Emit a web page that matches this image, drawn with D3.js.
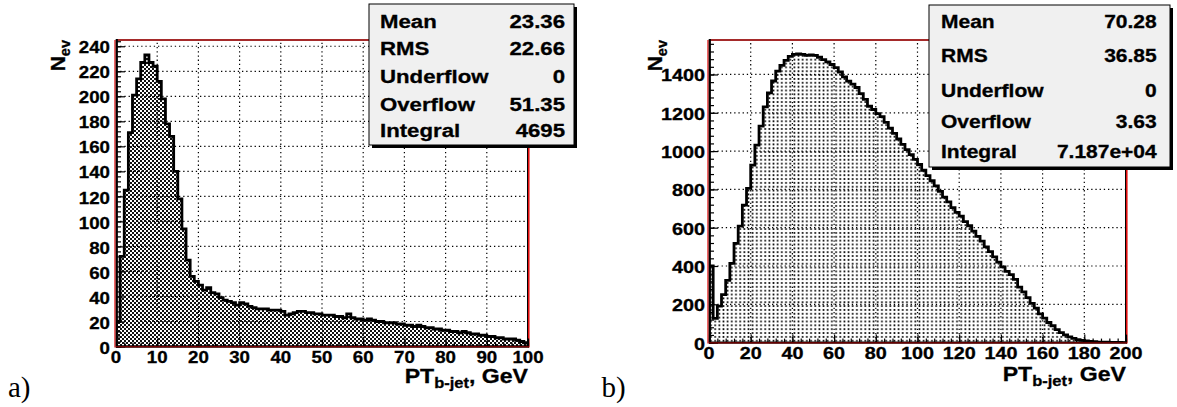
<!DOCTYPE html>
<html><head><meta charset="utf-8">
<script src="https://cdn.jsdelivr.net/npm/d3@7"></script>
<style>html,body{margin:0;padding:0;background:#fff;}svg{display:block;}</style>
</head><body><svg id="c" width="1177" height="407"></svg>
<script>
// ---------- data ----------
const leftCounts = [20,72,125,171,201,214,227,233,227,224,212,198,178,168,140,118,94,69,56,52,
  49,45,47,43,42,39,37,36,35,33,35,34,32,31,30,30,30,29,29,29,
  28,25,26,27,28,28,27,27,26,26,25,25,25,24,24,23,26,23,22,22,
  21,22,21,20,20,19,19,19,18,18,17,17,16,17,16,15,15,14,14,13,
  13,12,12,11,12,11,10,10,9,9,8,8,7,7,6,6,6,5,4,3];
const rightCounts = [400,127,190,250,325,414,518,608,718,805,927,1031,1130,1231,1304,1366,1417,1448,1474,1495,
  1505,1507,1505,1500,1502,1500,1490,1478,1466,1452,1436,1413,1387,1365,1350,1332,1300,1270,1234,1217,
  1196,1180,1150,1120,1092,1063,1035,1008,982,957,930,900,872,845,818,790,760,735,705,680,
  660,632,610,582,555,530,500,475,448,420,395,372,355,330,290,265,235,205,180,150,
  128,105,88,68,52,40,30,22,16,12,9,6,5,3,2,2,1,1,1,0];
const leftXRange = [0,100];
const rightXRange = [0,200];
const leftYMax = 245;
const rightYMax = 1580;
const leftXTicks = [0,10,20,30,40,50,60,70,80,90,100];
const leftYTicks = [0,20,40,60,80,100,120,140,160,180,200,220,240];
const rightXTicks = [0,20,40,60,80,100,120,140,160,180,200];
const rightYTicks = [0,200,400,600,800,1000,1200,1400];
const leftMinorX = 2, leftMinorY = 4, rightMinorX = 4, rightMinorY = 40;
const statLabels = ["Mean","RMS","Underflow","Overflow","Integral"];
const leftStatValues = ["23.36","22.66","0","51.35","4695"];
const rightStatValues = ["70.28","36.85","0","3.63","7.187e+04"];
const panelTags = ["a)","b)"];
const xTitleMain = "PT", xTitleSub = "b-jet", xTitleTail = ", GeV";
const yTitleMain = "N", yTitleSub = "ev";

// ---------- drawing ----------
const svg = d3.select("#c");
svg.append("rect").attr("width",1177).attr("height",407).attr("fill","#fff");
const defs = svg.append("defs");
// checker pattern
const chk = defs.append("pattern").attr("id","chk").attr("patternUnits","userSpaceOnUse").attr("width",4).attr("height",4);
chk.append("rect").attr("width",4).attr("height",4).attr("fill","#fff");
chk.append("rect").attr("width",2).attr("height",2).attr("fill","#111");
chk.append("rect").attr("x",2).attr("y",2).attr("width",2).attr("height",2).attr("fill","#111");
// dot pattern
const dot = defs.append("pattern").attr("id","dot").attr("patternUnits","userSpaceOnUse").attr("width",4.17).attr("height",3.85);
dot.append("rect").attr("width",4.17).attr("height",3.85).attr("fill","#fff");
dot.append("circle").attr("cx",2.08).attr("cy",1.9).attr("r",1.0).attr("fill","#000");

const FONT = "'Liberation Sans', Arial, Helvetica, sans-serif";

function txt(parent, x, y, s, size, anchor, sx){
  return parent.append("text")
    .attr("transform", `translate(${x},${y}) scale(${sx},1)`)
    .attr("font-family", FONT).attr("font-weight","bold")
    .attr("font-size", size).attr("text-anchor", anchor).attr("fill","#000")
    .attr("stroke","#000").attr("stroke-width",0.3).text(s);
}

function panel(cfg, idx){
  const g = svg.append("g");
  const x = d3.scaleLinear().domain(cfg.xDomain).range([cfg.x0, cfg.x1]);
  const y = d3.scaleLinear().domain([0, cfg.yMax]).range([cfg.y1, cfg.y0]);
  const n = cfg.counts.length;
  const w = (cfg.xDomain[1]-cfg.xDomain[0])/n;
  const pts = [[cfg.xDomain[0],0]];
  cfg.counts.forEach((v,i)=>{ pts.push([cfg.xDomain[0]+i*w, v]); pts.push([cfg.xDomain[0]+(i+1)*w, v]); });
  pts.push([cfg.xDomain[1],0]);
  const line = d3.line().x(d=>x(d[0])).y(d=>y(d[1]));

  const cid = "clip"+idx;
  defs.append("clipPath").attr("id",cid).append("rect")
    .attr("x",cfg.x0).attr("y",cfg.y0).attr("width",cfg.x1-cfg.x0).attr("height",cfg.y1-cfg.y0);

  // fill
  g.append("path").attr("d", line(pts)+"Z").attr("fill",`url(#${cfg.pattern})`).attr("stroke","none")
    .attr("clip-path",`url(#${cid})`);

  // grid
  const grid = g.append("g").attr("stroke","#000").attr("stroke-width",1.2).attr("stroke-dasharray","1.3,2.9");
  cfg.xTicks.filter(t=>t>cfg.xDomain[0] && t<cfg.xDomain[1]).forEach(t=>{
    grid.append("line").attr("x1",x(t)).attr("x2",x(t)).attr("y1",cfg.y1).attr("y2",cfg.y0);
  });
  cfg.yTicks.filter(t=>t>0 && t<cfg.yMax).forEach(t=>{
    grid.append("line").attr("x1",cfg.x0).attr("x2",cfg.x1).attr("y1",y(t)).attr("y2",y(t));
  });

  // histogram outline
  g.append("path").attr("d", line(pts)).attr("fill","none").attr("stroke","#000")
    .attr("stroke-width",2.8).attr("stroke-linejoin","miter").attr("clip-path",`url(#${cid})`);

  // frame
  g.append("line").attr("x1",cfg.x0).attr("x2",cfg.x1+1).attr("y1",cfg.y0).attr("y2",cfg.y0)
    .attr("stroke","#a52a2a").attr("stroke-width",2.2);
  g.append("line").attr("x1",cfg.x1-0.5).attr("x2",cfg.x1-0.5).attr("y1",cfg.y0).attr("y2",cfg.y1)
    .attr("stroke","#000").attr("stroke-width",1);
  g.append("line").attr("x1",cfg.x1+0.8).attr("x2",cfg.x1+0.8).attr("y1",cfg.y0).attr("y2",cfg.y1+1)
    .attr("stroke","#e00000").attr("stroke-width",1.5);

  // ticks (inward) via d3 axes
  const minorX = d3.range(cfg.xDomain[0], cfg.xDomain[1]+1e-9, cfg.minorX);
  const minorY = d3.range(0, cfg.yMax, cfg.minorY);
  const ax = g.append("g").attr("transform",`translate(0,${cfg.y1})`)
    .call(d3.axisBottom(x).tickValues(minorX).tickSize(-4).tickFormat(""));
  const axM = g.append("g").attr("transform",`translate(0,${cfg.y1})`)
    .call(d3.axisBottom(x).tickValues(cfg.xTicks).tickSize(-8).tickFormat(""));
  const ay = g.append("g").attr("transform",`translate(${cfg.x0},0)`)
    .call(d3.axisLeft(y).tickValues(minorY).tickSize(-5).tickFormat(""));
  const ayM = g.append("g").attr("transform",`translate(${cfg.x0},0)`)
    .call(d3.axisLeft(y).tickValues(cfg.yTicks).tickSize(-9).tickFormat(""));
  [ax,axM,ay,ayM].forEach(a=>{ a.select(".domain").remove(); a.selectAll("line").attr("stroke","#000").attr("stroke-width",1.2); });

  // axis lines
  g.append("line").attr("x1",cfg.x0-1).attr("x2",cfg.x0-1).attr("y1",cfg.y0).attr("y2",cfg.y1+1)
    .attr("stroke","#e00000").attr("stroke-width",1.2);
  g.append("line").attr("x1",cfg.x0+0.8).attr("x2",cfg.x0+0.8).attr("y1",cfg.y0-1).attr("y2",cfg.y1+1.2)
    .attr("stroke","#000").attr("stroke-width",2.2);
  g.append("line").attr("x1",cfg.x0).attr("x2",cfg.x1+1).attr("y1",cfg.y1).attr("y2",cfg.y1)
    .attr("stroke","#000").attr("stroke-width",2.4);
  g.append("line").attr("x1",cfg.x0).attr("x2",cfg.x1+1).attr("y1",cfg.y1+0.3).attr("y2",cfg.y1+0.3)
    .attr("stroke","#d00000").attr("stroke-width",0.8);

  // tick labels
  cfg.yTicks.forEach(t=>{
    txt(g, cfg.x0-cfg.yLabOff, y(t)+cfg.tickSize*0.42, String(t), cfg.tickSize, "end", cfg.tickSx);
  });
  cfg.xTicks.forEach(t=>{
    txt(g, x(t), cfg.y1+16.5, String(t), cfg.tickSize, "middle", cfg.tickSx);
  });

  // x title
  const xt = g.append("text")
    .attr("transform",`translate(${cfg.x1},${cfg.xTitleY}) scale(${cfg.titleSx},1)`)
    .attr("font-family",FONT).attr("font-weight","bold").attr("font-size",21).attr("text-anchor","end")
    .attr("stroke","#000").attr("stroke-width",0.3);
  xt.append("tspan").text(xTitleMain);
  xt.append("tspan").attr("dy",5).attr("font-size",15).text(xTitleSub);
  xt.append("tspan").attr("dy",-5).text(xTitleTail);

  // y title
  const yt = g.append("text")
    .attr("transform",`translate(${cfg.yTitleX},${cfg.y0}) rotate(-90)`)
    .attr("font-family",FONT).attr("font-weight","bold").attr("font-size",21).attr("text-anchor","end")
    .attr("stroke","#000").attr("stroke-width",0.3);
  yt.append("tspan").text(yTitleMain);
  yt.append("tspan").attr("dy",5).attr("font-size",14.5).text(yTitleSub);

  // stats box
  const b = cfg.box;
  g.append("rect").attr("x",b.x+3).attr("y",b.y+3).attr("width",b.w).attr("height",b.h).attr("fill","#000");
  g.append("rect").attr("x",b.x).attr("y",b.y).attr("width",b.w).attr("height",b.h)
    .attr("fill","#f0f0f0").attr("stroke","#000").attr("stroke-width",1);
  statLabels.forEach((s,i)=>{
    txt(g, b.labX, b.rows[i], s, b.size, "start", b.sx);
    txt(g, b.valX, b.rows[i], cfg.stats[i], b.size, "end", b.sx);
  });

  // panel tag
  g.append("text").attr("x",cfg.tagX).attr("y",396.5).attr("font-family","'Liberation Serif','DejaVu Serif',serif")
    .attr("font-size",29).attr("fill","#000").text(cfg.tag);
}

panel({
  counts:leftCounts, xDomain:leftXRange, yMax:leftYMax, xTicks:leftXTicks, yTicks:leftYTicks,
  minorX:leftMinorX, minorY:leftMinorY, pattern:"chk",
  x0:116, x1:528, y0:40, y1:346.5, yLabOff:6, tickSize:17, tickSx:1.1, titleSx:1.1, yTitleX:65, xTitleY:383,
  stats:leftStatValues, tag:panelTags[0], tagX:8,
  box:{x:369, y:4, w:205, h:141, labX:380, valX:565, rows:[28.3,55,83.3,110.7,137.3], size:18.5, sx:1.2}
},0);
panel({
  counts:rightCounts, xDomain:rightXRange, yMax:rightYMax, xTicks:rightXTicks, yTicks:rightYTicks,
  minorX:rightMinorX, minorY:rightMinorY, pattern:"dot",
  x0:709, x1:1126, y0:40, y1:342.6, yLabOff:4, tickSize:16.5, tickSx:1.2, titleSx:1.1, yTitleX:661.5, xTitleY:380.5,
  stats:rightStatValues, tag:panelTags[1], tagX:601.5,
  box:{x:929, y:5, w:241, h:162, labX:941, valX:1156.7, rows:[28.3,62,96.5,128,157.5], size:17.5, sx:1.2}
},1);
</script></body></html>
